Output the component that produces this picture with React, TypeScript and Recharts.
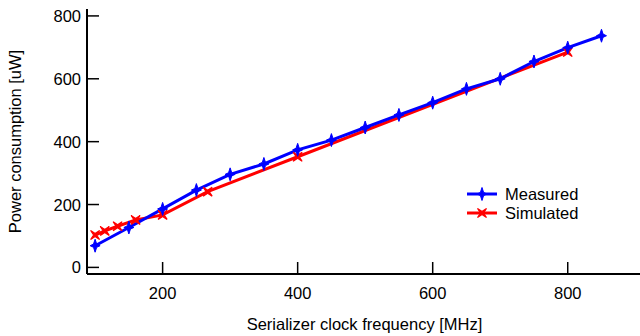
import React from "react";
import { LineChart, Line, XAxis, YAxis, Label } from "recharts";

// measured: every 50 MHz from 100 to 850
const measuredFreq = [100, 150, 200, 250, 300, 350, 400, 450, 500, 550, 600, 650, 700, 750, 800, 850];
const measuredPower = [69, 127, 186, 246, 296, 329, 374, 405, 445, 485, 524, 568, 600, 655, 699, 737];

// simulated: 800 MHz / n
const simulatedFreq = [100, 114.3, 133.3, 160, 200, 266.7, 400, 800];
const simulatedPower = [103, 116, 131, 151, 167, 241, 352, 685];

const xTicks = [200, 400, 600, 800];
const yTicks = [0, 200, 400, 600, 800];
const xDomain = [88, 910];
const yDomain = [-21, 822];

const measured = measuredFreq.map((f, i) => ({ f, p: measuredPower[i] }));
const simulated = simulatedFreq.map((f, i) => ({ f, p: simulatedPower[i] }));

const FONT = "Arial, 'Liberation Sans', sans-serif";
const BLUE = "#0000ff";
const RED = "#ff0000";
const TICK = 12;
const FS = 16.5;

function BlueStar({ cx, cy }: { cx: number; cy: number }) {
  return (
    <path
      d={`M${cx},${cy - 6.5} L${cx + 1.6},${cy - 1.6} L${cx + 5},${cy} L${cx + 1.6},${cy + 1.6} L${cx},${cy + 6.5} L${cx - 1.6},${cy + 1.6} L${cx - 5},${cy} L${cx - 1.6},${cy - 1.6} Z`}
      fill={BLUE}
      stroke={BLUE}
      strokeWidth={1}
    />
  );
}

function RedStar({ cx, cy }: { cx: number; cy: number }) {
  const r = 4.5;
  const s = 1.5;
  return (
    <path
      d={`M${cx - r},${cy - r} L${cx},${cy - s} L${cx + r},${cy - r} L${cx + s},${cy} L${cx + r},${cy + r} L${cx},${cy + s} L${cx - r},${cy + r} L${cx - s},${cy} Z`}
      fill={RED}
      stroke={RED}
      strokeWidth={1.2}
    />
  );
}

const BottomTick = (props: any) => {
  const { x, y, payload } = props;
  return (
    <g>
      <line x1={x} y1={y} x2={x} y2={y - TICK} stroke="#000" strokeWidth={1.5} />
      <text x={x} y={y + 25} textAnchor="middle" fontSize={FS} fontFamily={FONT} fill="#000">
        {payload.value}
      </text>
    </g>
  );
};

const TopTick = (props: any) => {
  const { x, y } = props;
  return <line x1={x} y1={y} x2={x} y2={y + TICK} stroke="#000" strokeWidth={1.5} />;
};

const LeftTick = (props: any) => {
  const { x, y, payload } = props;
  return (
    <g>
      <line x1={x} y1={y} x2={x + TICK} y2={y} stroke="#000" strokeWidth={1.5} />
      <text x={x - 6} y={y + 6} textAnchor="end" fontSize={FS} fontFamily={FONT} fill="#000">
        {payload.value}
      </text>
    </g>
  );
};

const RightTick = (props: any) => {
  const { x, y } = props;
  return <line x1={x} y1={y} x2={x - TICK} y2={y} stroke="#000" strokeWidth={1.5} />;
};

const legendRows = [
  { name: "Measured", color: BLUE, Marker: BlueStar },
  { name: "Simulated", color: RED, Marker: RedStar },
];

function ChartLegend() {
  return (
    <svg width={140} height={40} style={{ position: "absolute", left: 465, top: 184 }}>
      {legendRows.map((r, i) => {
        const cy = 10 + i * 19;
        return (
          <g key={r.name}>
            <line x1={2} y1={cy} x2={32} y2={cy} stroke={r.color} strokeWidth={3} />
            <r.Marker cx={17} cy={cy} />
            <text x={40} y={cy + 6} fontSize={FS} fontFamily={FONT} fill="#000">
              {r.name}
            </text>
          </g>
        );
      })}
    </svg>
  );
}

export default function App() {
  return (
    <div style={{ position: "absolute", left: 0, top: 0, width: 640, height: 336, overflow: "hidden", background: "#fff" }}>
      <LineChart width={650} height={336} margin={{ top: 9, right: 8, left: 0, bottom: 0 }}>
        <XAxis
          xAxisId="b"
          type="number"
          dataKey="f"
          domain={xDomain}
          ticks={xTicks}
          allowDataOverflow
          height={62}
          tickSize={0}
          tickMargin={0}
          tickLine={false}
          tick={BottomTick}
          axisLine={{ stroke: "#000", strokeWidth: 2 }}
          interval={0}
        >
          <Label
            value="Serializer clock frequency [MHz]"
            position="insideBottom"
            offset={6}
            style={{ fontSize: FS, fontFamily: FONT, fill: "#000" }}
          />
        </XAxis>
        <XAxis
          xAxisId="t"
          orientation="top"
          type="number"
          dataKey="f"
          domain={xDomain}
          ticks={xTicks}
          allowDataOverflow
          height={0}
          tickSize={0}
          tickMargin={0}
          tickLine={false}
          tick={TopTick}
          axisLine={{ stroke: "#000", strokeWidth: 2 }}
          interval={0}
        />
        <YAxis
          yAxisId="l"
          type="number"
          domain={yDomain}
          ticks={yTicks}
          allowDataOverflow
          width={87}
          tickSize={0}
          tickMargin={0}
          tickLine={false}
          tick={LeftTick}
          axisLine={{ stroke: "#000", strokeWidth: 2 }}
          interval={0}
        >
          <Label
            content={(p: any) => {
              const vb = p.viewBox;
              const cy = vb.y + vb.height / 2;
              return (
                <text
                  x={15}
                  y={cy}
                  transform={`rotate(-90 15 ${cy})`}
                  textAnchor="middle"
                  dominantBaseline="central"
                  fontSize={FS}
                  fontFamily={FONT}
                  fill="#000"
                >
                  Power consumption [uW]
                </text>
              );
            }}
          />
        </YAxis>
        <YAxis
          yAxisId="r"
          orientation="right"
          type="number"
          domain={yDomain}
          ticks={yTicks}
          allowDataOverflow
          width={0}
          tickSize={0}
          tickMargin={0}
          tickLine={false}
          tick={RightTick}
          axisLine={{ stroke: "#000", strokeWidth: 2 }}
          interval={0}
        />
        <Line
          xAxisId="b"
          yAxisId="l"
          data={simulated}
          dataKey="p"
          name="Simulated"
          stroke={RED}
          strokeWidth={3}
          isAnimationActive={false}
          dot={(p: any) => <RedStar key={`s${p.index}`} cx={p.cx} cy={p.cy} />}
          activeDot={false}
        />
        <Line
          xAxisId="b"
          yAxisId="l"
          data={measured}
          dataKey="p"
          name="Measured"
          stroke={BLUE}
          strokeWidth={3}
          isAnimationActive={false}
          dot={(p: any) => <BlueStar key={`m${p.index}`} cx={p.cx} cy={p.cy} />}
          activeDot={false}
        />
      </LineChart>
      <ChartLegend />
    </div>
  );
}
